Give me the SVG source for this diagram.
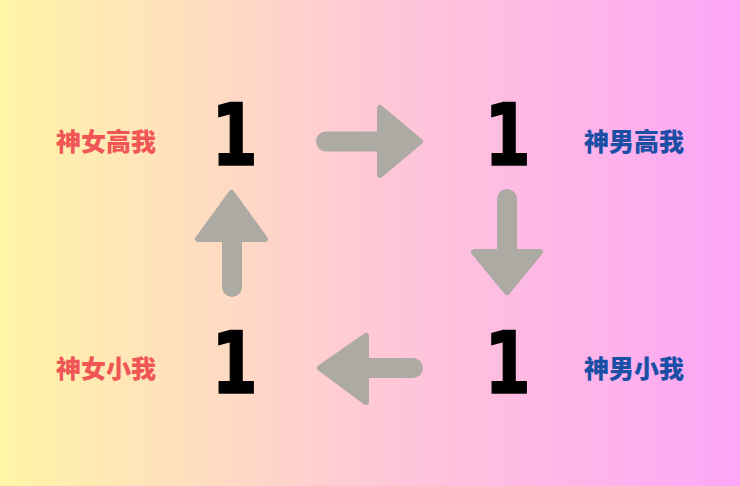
<svg xmlns="http://www.w3.org/2000/svg" width="740" height="486" viewBox="0 0 740 486">
<defs>
<linearGradient id="bg" x1="0" y1="0" x2="1" y2="0">
<stop offset="0" stop-color="#fff5a6"/>
<stop offset="0.5" stop-color="#ffc9d6"/>
<stop offset="1" stop-color="#fca6f7"/>
</linearGradient>
<style>
.num{font-family:"DejaVu Sans",sans-serif;font-weight:bold;font-size:86px;fill:#000;text-anchor:middle;stroke:#000;stroke-width:1.5}
.lbl{font-family:"Noto Sans CJK SC","Noto Sans CJK JP",sans-serif;font-weight:900;font-size:25px;text-anchor:middle}
.red{fill:#f05656}
.blue{fill:#1b4fa6}
.shaft{stroke:#adaaa3;stroke-width:20;stroke-linecap:round;fill:none}
.head{fill:#adaaa3;stroke:#adaaa3;stroke-width:6;stroke-linejoin:round}
</style>
</defs>
<rect width="740" height="486" fill="url(#bg)"/>
<g id="node-tl"><text class="lbl red" x="106" y="151">神女高我</text><text class="num" transform="translate(234.5,164.5) scale(0.78,1)">1</text></g>
<g id="node-tr"><text class="num" transform="translate(507.5,164.5) scale(0.78,1)">1</text><text class="lbl blue" x="634" y="151">神男高我</text></g>
<g id="node-bl"><text class="lbl red" x="106" y="378">神女小我</text><text class="num" transform="translate(234.5,392.5) scale(0.78,1)">1</text></g>
<g id="node-br"><text class="num" transform="translate(507.5,392.5) scale(0.78,1)">1</text><text class="lbl blue" x="634" y="378">神男小我</text></g>
<g id="connectors">
<line class="shaft" x1="326" y1="141.5" x2="385" y2="141.5"/>
<polygon class="head" points="380,108 380,175 420,141.5"/>
<line class="shaft" x1="507" y1="199" x2="507" y2="256"/>
<polygon class="head" points="474,252 540,252 507,292"/>
<line class="shaft" x1="413" y1="368" x2="355" y2="368"/>
<polygon class="head" points="366,336 366,402 320,368"/>
<line class="shaft" x1="232" y1="287" x2="232" y2="230"/>
<polygon class="head" points="198,239 265,239 231.5,193"/>
</g>
</svg>
